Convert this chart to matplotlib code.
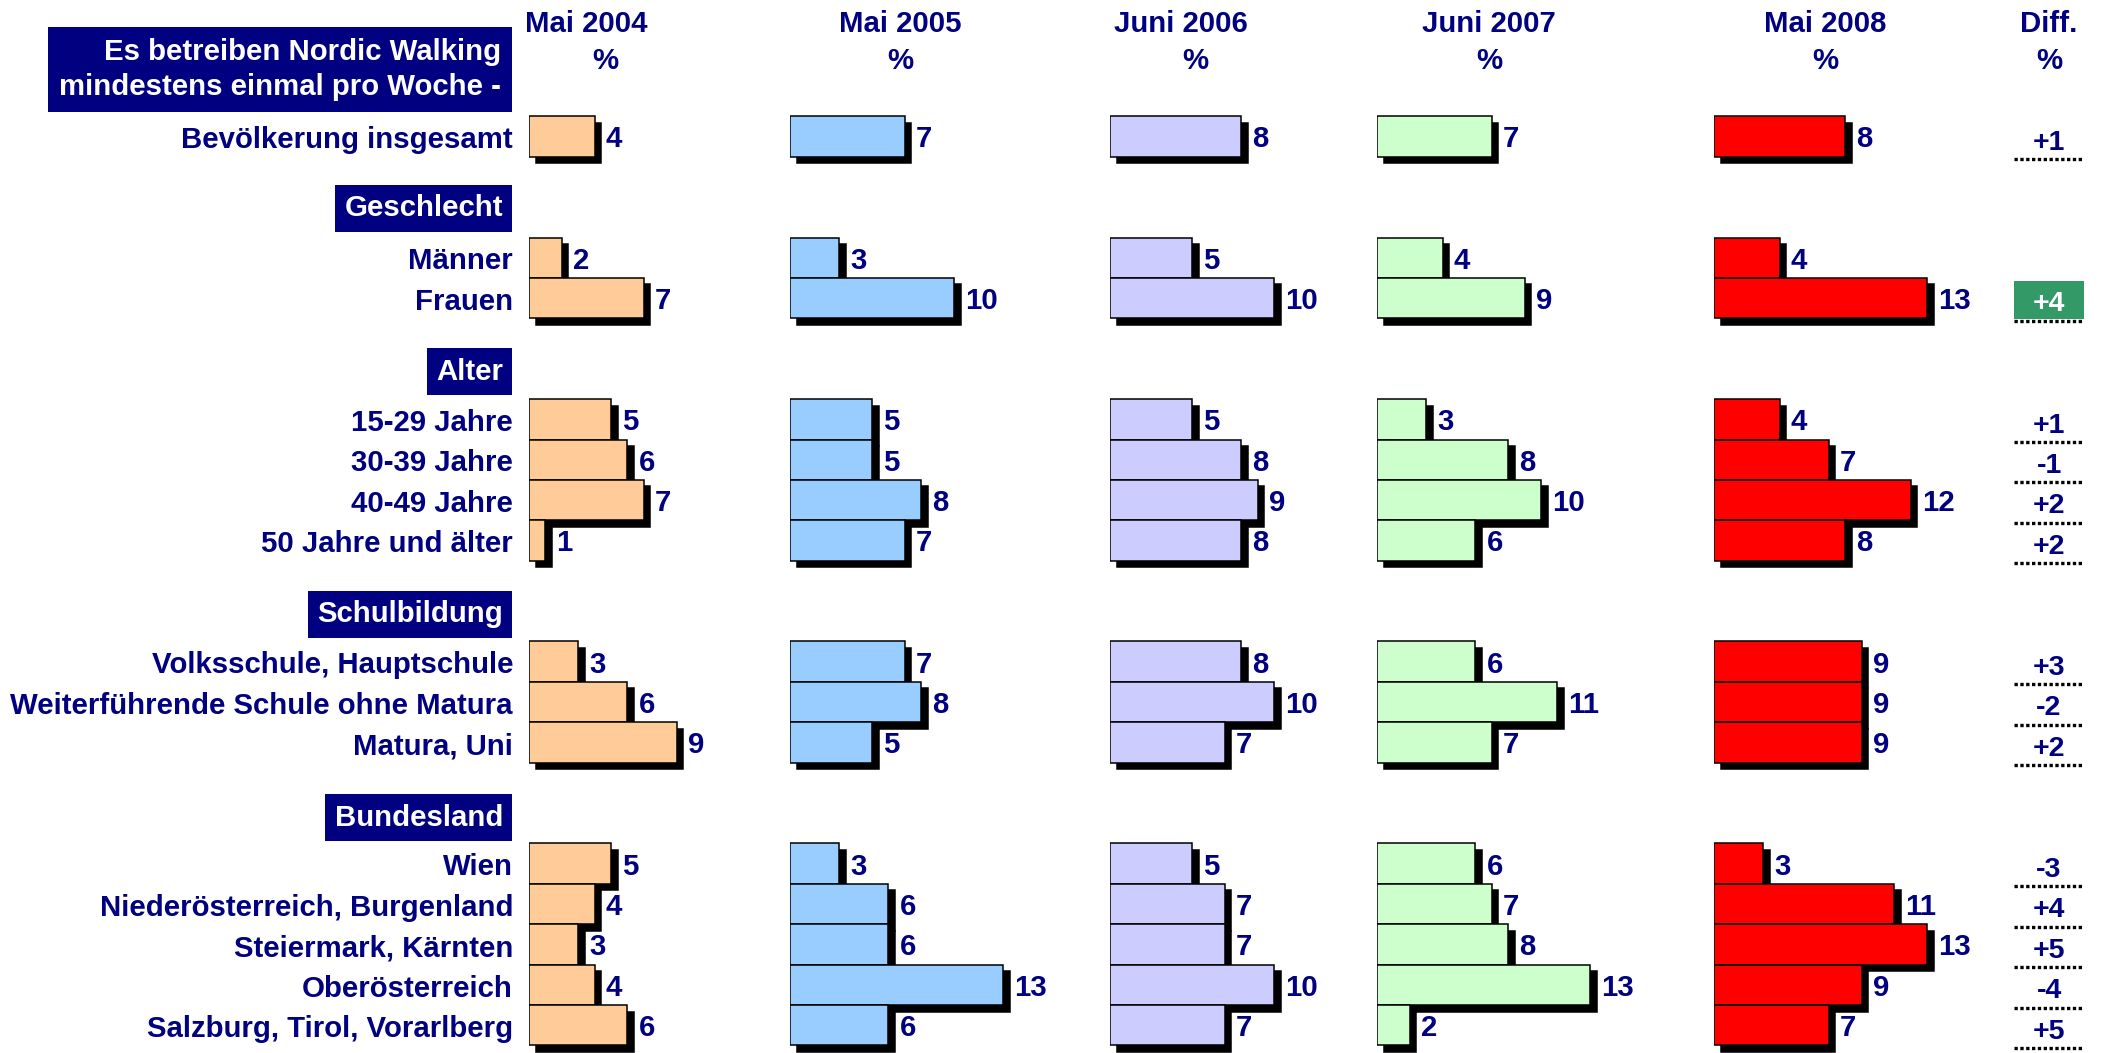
import matplotlib
matplotlib.use('Agg')
import matplotlib.pyplot as plt
import matplotlib.transforms as mtransforms
from matplotlib.patches import Rectangle

plt.rcParams['font.family'] = ['Liberation Sans', 'DejaVu Sans']
plt.rcParams['font.weight'] = 'bold'

# -------------------- DATA --------------------
title_text = 'Es betreiben Nordic Walking\nmindestens einmal pro Woche -'
row_labels = ['Bevölkerung insgesamt',
              'Männer', 'Frauen',
              '15-29 Jahre', '30-39 Jahre', '40-49 Jahre', '50 Jahre und älter',
              'Volksschule, Hauptschule', 'Weiterführende Schule ohne Matura', 'Matura, Uni',
              'Wien', 'Niederösterreich, Burgenland', 'Steiermark, Kärnten',
              'Oberösterreich', 'Salzburg, Tirol, Vorarlberg']
row_pos = [0, 3, 4, 7, 8, 9, 10, 13, 14, 15, 18, 19, 20, 21, 22]
sections = ['Geschlecht', 'Alter', 'Schulbildung', 'Bundesland']
section_pos = [1.78, 5.82, 11.83, 16.86]

periods = ['Mai 2004', 'Mai 2005', 'Juni 2006', 'Juni 2007', 'Mai 2008']
mai_2004 = [4, 2, 7, 5, 6, 7, 1, 3, 6, 9, 5, 4, 3, 4, 6]
mai_2005 = [7, 3, 10, 5, 5, 8, 7, 7, 8, 5, 3, 6, 6, 13, 6]
juni_2006 = [8, 5, 10, 5, 8, 9, 8, 8, 10, 7, 5, 7, 7, 10, 7]
juni_2007 = [7, 4, 9, 3, 8, 10, 6, 6, 11, 7, 6, 7, 8, 13, 2]
mai_2008 = [8, 4, 13, 4, 7, 12, 8, 9, 9, 9, 3, 11, 13, 9, 7]
diff = ['+1', None, '+4', '+1', '-1', '+2', '+2', '+3', '-2', '+2',
        '-3', '+4', '+5', '-4', '+5']
diff_highlight = [False, False, True] + [False] * 12

# -------------------- LAYOUT --------------------
W, H = 2103, 1053
NAVY = '#000080'
FS = 21.2
bar_colors = ['#FFCC99', '#99CCFF', '#CCCCFF', '#CCFFCC', '#FF0000']
bar_x0 = [529, 790, 1110, 1377, 1714]       # px, start of each bar column
head_x = [586, 900, 1181, 1489, 1825]
pct_x = [605, 900, 1195, 1489, 1825]
px_per_unit = 16.4
ylim = (22.686, -3.379)

fig = plt.figure(figsize=(W / 100, H / 100), dpi=100)
base = fig.add_axes([0, 0, 1, 1])
base.set_xlim(0, W)
base.set_ylim(*ylim)
base.axis('off')

# title box
base.text(501, -1.66, title_text, ha='right', va='center', color='white',
          fontsize=FS, linespacing=1.3, multialignment='right',
          bbox=dict(boxstyle='square,pad=0.38', facecolor=NAVY, edgecolor='none'))

# section boxes
for s, y in zip(sections, section_pos):
    base.text(503, y, s, ha='right', va='center', color='white', fontsize=FS,
              bbox=dict(boxstyle='square,pad=0.32', facecolor=NAVY, edgecolor='none'))

# row labels
for lab, y in zip(row_labels, row_pos):
    base.text(513, y + 0.29, lab, ha='right', va='baseline', color=NAVY, fontsize=FS)

# column headers
for p, hx, px in zip(periods, head_x, pct_x):
    base.text(hx, -2.594, p, ha='center', va='baseline', color=NAVY, fontsize=FS)
    base.text(px, -1.66, '%', ha='center', va='baseline', color=NAVY, fontsize=FS)
base.text(2049, -2.594, 'Diff.', ha='center', va='baseline', color=NAVY, fontsize=FS)
base.text(2049, -1.66, '%', ha='center', va='baseline', color=NAVY, fontsize=FS)

# -------------------- BARS --------------------
series = [mai_2004, mai_2005, juni_2006, juni_2007, mai_2008]
for vals, color, x0 in zip(series, bar_colors, bar_x0):
    ax = fig.add_axes([x0 / W, 0, 15 * px_per_unit / W, 1])
    ax.set_xlim(0, 15)
    ax.set_ylim(*ylim)
    ax.axis('off')
    shadow = ax.transData + mtransforms.ScaledTranslation(4.7 / 72, -4.7 / 72, fig.dpi_scale_trans)
    ax.barh(row_pos, vals, height=1.0, left=0, color='black', edgecolor='black',
            linewidth=1.1, transform=shadow, zorder=1)
    ax.barh(row_pos, vals, height=1.0, left=0, color=color, edgecolor='black',
            linewidth=1.1, zorder=2)
    for v, y in zip(vals, row_pos):
        ax.annotate(str(v), xy=(v, y + 0.27), xytext=(8, 0), textcoords='offset points',
                    ha='left', va='baseline', color=NAVY, fontsize=FS, zorder=3)

# -------------------- DIFF COLUMN --------------------
dax = fig.add_axes([2014 / W, 0, 70 / W, 1])
dax.set_xlim(0, 1)
dax.set_ylim(*ylim)
dax.axis('off')
for d, hl, y in zip(diff, diff_highlight, row_pos):
    if d is None:
        continue
    if hl:
        dax.add_patch(Rectangle((0, y - 0.42), 1, 0.94, facecolor='#339966',
                                edgecolor='none', zorder=1))
    dax.text(0.5, y + 0.33, d, ha='center', va='baseline', fontsize=20.5,
             color='white' if hl else NAVY, zorder=2)
    dax.plot([0, 1], [y + 0.56, y + 0.56], color='black', lw=2.4,
             dashes=(1.0, 0.75), solid_capstyle='butt', zorder=2)

fig.savefig('out.png', dpi=100)
